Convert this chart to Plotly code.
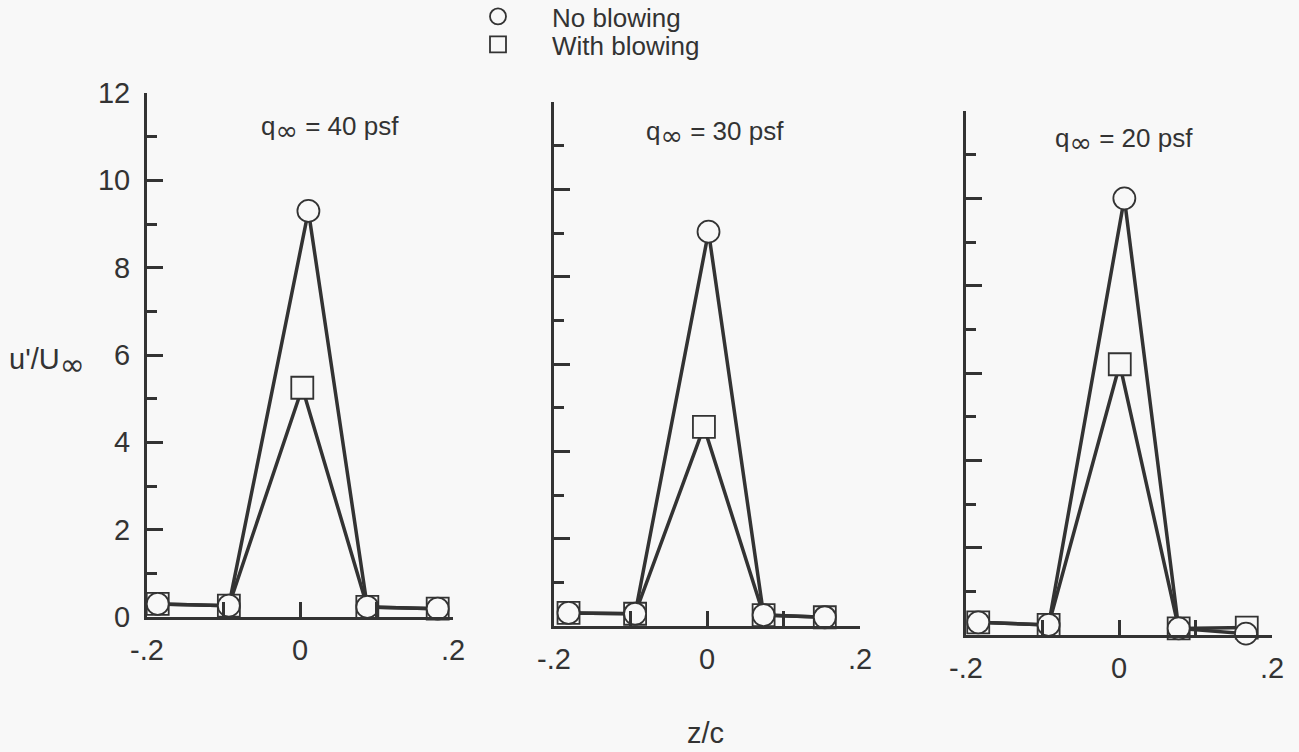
import plotly.graph_objects as go

# ---------------- data ----------------
INF_T = '<sub><span style="font-family:DejaVu Sans;font-size:27px">∞</span></sub>'
INF_Y = '<sub><span style="font-family:DejaVu Sans;font-size:30px">∞</span></sub>'
panel_titles = ["q" + INF_T + " = 40 psf", "q" + INF_T + " = 30 psf", "q" + INF_T + " = 20 psf"]

# q = 40 psf
z_no_40 = [-0.186, -0.093, 0.011, 0.088, 0.180]
u_no_40 = [0.30, 0.26, 9.30, 0.23, 0.19]
z_bl_40 = [-0.186, -0.093, 0.003, 0.088, 0.180]
u_bl_40 = [0.30, 0.26, 5.25, 0.23, 0.19]

# q = 30 psf
z_no_30 = [-0.181, -0.094, 0.002, 0.074, 0.154]
u_no_30 = [0.30, 0.28, 9.03, 0.25, 0.20]
z_bl_30 = [-0.181, -0.094, -0.004, 0.074, 0.154]
u_bl_30 = [0.30, 0.28, 4.56, 0.25, 0.20]

# q = 20 psf
z_no_20 = [-0.184, -0.092, 0.007, 0.078, 0.166]
u_no_20 = [0.29, 0.23, 10.0, 0.15, 0.03]
z_bl_20 = [-0.184, -0.092, 0.001, 0.078, 0.167]
u_bl_20 = [0.29, 0.23, 6.20, 0.15, 0.17]

series_names = ["No blowing", "With blowing"]
x_tickvals = [-0.2, 0.0, 0.2]
x_ticktext = ["-.2", "0", ".2"]
x_minorvals = [-0.1, 0.1]
y_tickvals = [0, 2, 4, 6, 8, 10, 12]
y_ticktext = ["0", "2", "4", "6", "8", "10", "12"]

panels = [
    (z_no_40, u_no_40, z_bl_40, u_bl_40),
    (z_no_30, u_no_30, z_bl_30, u_bl_30),
    (z_no_20, u_no_20, z_bl_20, u_bl_20),
]

# ---------------- layout constants ----------------
W, H = 1299, 752
INK = "#333333"
BG = "#f8f8f8"
FONT = "Liberation Sans, Arial, Helvetica, sans-serif"

# plot-area boxes in pixels: (left, right, top, bottom)
boxes = [(147, 453, 93, 617), (554, 860, 102, 626), (966, 1272, 111, 635)]

fig = go.Figure()


def add_series(x, y, xa, ya, symbol, name, legend, show):
    fig.add_trace(go.Scatter(
        x=x, y=y, xaxis=xa, yaxis=ya, mode="lines", showlegend=False,
        line=dict(color=INK, width=3.5), cliponaxis=False, hoverinfo="skip",
    ))
    fig.add_trace(go.Scatter(
        x=x, y=y, xaxis=xa, yaxis=ya, mode="markers",
        name=name, showlegend=show, legend=legend,
        marker=dict(symbol=symbol, size=22, color=BG, line=dict(color=INK, width=1.8)),
        cliponaxis=False,
    ))


for i, (zn, un, zb, ub) in enumerate(panels):
    suffix = "" if i == 0 else str(i + 1)
    xa, ya = "x" + suffix, "y" + suffix
    add_series(zb, ub, xa, ya, "square", series_names[1], "legend2", i == 0)
    add_series(zn, un, xa, ya, "circle", series_names[0], "legend", i == 0)

legend_common = dict(xanchor="left", yanchor="top", bgcolor="rgba(0,0,0,0)",
                     font=dict(size=26, color=INK, family=FONT),
                     itemwidth=98, itemsizing="trace")

layout = dict(
    width=W, height=H,
    margin=dict(l=0, r=0, t=0, b=0, autoexpand=False),
    paper_bgcolor=BG, plot_bgcolor=BG,
    font=dict(family=FONT, size=29, color=INK),
    legend=dict(x=444 / W, y=1 + 7 / H, **legend_common),
    legend2=dict(x=444 / W, y=1 - 21 / H, **legend_common),
)

for i, (l, r, t, b) in enumerate(boxes):
    suffix = "" if i == 0 else str(i + 1)
    layout["xaxis" + suffix] = dict(
        domain=[l / W, r / W], range=[-0.2, 0.2], anchor="y" + suffix,
        automargin=False,
        showgrid=False, zeroline=False, showline=True, linecolor=INK, linewidth=3,
        tickmode="array", tickvals=x_tickvals, ticktext=x_ticktext,
        ticks="inside", ticklen=15, tickwidth=2.5, tickcolor=INK,
        tickfont=dict(size=29, color=INK), ticklabelstandoff=5,
        minor=dict(tickmode="array", tickvals=x_minorvals, ticks="inside",
                   ticklen=15, tickwidth=2.5, tickcolor=INK, showgrid=False),
    )
    layout["yaxis" + suffix] = dict(
        domain=[1 - b / H, 1 - t / H], range=[0, 12], anchor="x" + suffix,
        automargin=False,
        showgrid=False, zeroline=False, showline=True, linecolor=INK, linewidth=3,
        tickmode="array", tickvals=y_tickvals, ticktext=y_ticktext,
        showticklabels=(i == 0),
        ticks="inside", ticklen=16, tickwidth=2.5, tickcolor=INK,
        tickfont=dict(size=29, color=INK), ticklabelstandoff=8,
        minor=dict(dtick=1, tick0=0, ticks="inside", ticklen=10, tickwidth=2.5, tickcolor=INK),
    )

fig.update_layout(**layout)

# panel titles
title_pos = [(330, 128), (715, 133), (1124, 140)]
for (px, py), txt in zip(title_pos, panel_titles):
    fig.add_annotation(x=px / W, y=1 - py / H, xref="paper", yref="paper",
                       text=txt, showarrow=False, font=dict(size=26, color=INK),
                       xanchor="center", yanchor="middle")

# axis titles
fig.add_annotation(x=47 / W, y=1 - 362 / H, xref="paper", yref="paper",
                   text="u'/U" + INF_Y, showarrow=False,
                   font=dict(size=29, color=INK), xanchor="center", yanchor="middle")
fig.add_annotation(x=705 / W, y=1 - 733 / H, xref="paper", yref="paper",
                   text="z/c", showarrow=False,
                   font=dict(size=29, color=INK), xanchor="center", yanchor="middle")

fig.write_html(
    "out.html",
    config={"displayModeBar": False},
    post_script="document.body.style.margin='0';document.body.style.background='" + BG + "';",
)
